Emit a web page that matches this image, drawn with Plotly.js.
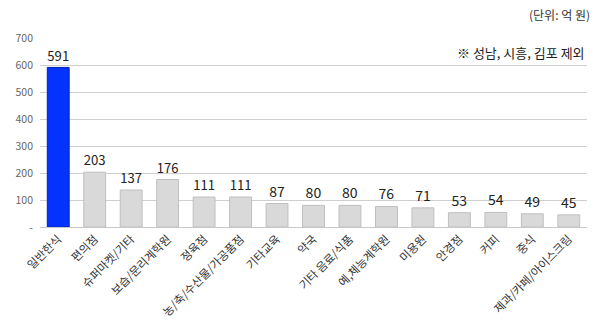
<!DOCTYPE html>
<html><head><meta charset="utf-8">
<script src="https://cdn.plot.ly/plotly-3.0.1.min.js"></script>
<style>html,body{margin:0;padding:0;background:#fff}#chart{width:600px;height:334px}</style>
</head><body><div id="chart"></div>
<script>
const categories = ["일반한식","편의점","슈퍼마켓/기타","보습/문리계학원","정육점","농/축/수산물/가공품점","기타교육","약국","기타 음료/식품","예,체능계학원","미용원","안경점","커피","중식","제과/카페/아이스크림"];
const values = [591,203,137,176,111,111,87,80,80,76,71,53,54,49,45];
const yTickVals = [0,100,200,300,400,500,600,700];
const yTickText = ["-","100","200","300","400","500","600","700"];
const unitNote = "(단위: 억 원)";
const excludeNote = "※ 성남, 시흥, 김포 제외";

const font = '"Noto Sans CJK KR", "Noto Sans", sans-serif';
const fill = values.map((v,i)=> i===0 ? '#0433ff' : '#d9d9d9');
const line = values.map((v,i)=> i===0 ? '#0022aa' : '#bfbfbf');

Plotly.newPlot('chart', [{
  type:'bar', x:categories, y:values, width:0.6,
  marker:{color:fill, line:{color:line, width:1}},
  text:values.map(String), textposition:'outside', cliponaxis:false,
  textfont:{family:font, size:14, color:'#222'},
  hoverinfo:'none'
}], {
  width:600, height:334,
  margin:{l:40, r:13, t:38, b:107},
  paper_bgcolor:'#fff', plot_bgcolor:'#fff',
  showlegend:false,
  font:{family:font},
  xaxis:{tickangle:-45, tickfont:{family:font, size:11.5, color:'#333'},
    showline:true, linecolor:'#c8c8c8', linewidth:1, showgrid:false, ticks:'', fixedrange:true},
  yaxis:{range:[0,700], tickvals:yTickVals, ticktext:yTickText,
    tickfont:{family:font, size:10.5, color:'#666'},
    showgrid:true, gridcolor:'#cfcfcf', gridwidth:1, zeroline:false, showline:false,
    ticks:'', ticklabelstandoff:6, fixedrange:true},
  annotations:[
    {text:unitNote, xref:'paper', yref:'paper', x:1.01, y:1.125, xanchor:'right', yanchor:'middle', showarrow:false,
     font:{family:font, size:12, color:'#333'}},
    {text:excludeNote, xref:'paper', yref:'paper', x:1, y:0.925, xanchor:'right', yanchor:'middle', showarrow:false,
     font:{family:font, size:13, color:'#222'}}
  ]
}, {displayModeBar:false, staticPlot:true});
</script></body></html>
